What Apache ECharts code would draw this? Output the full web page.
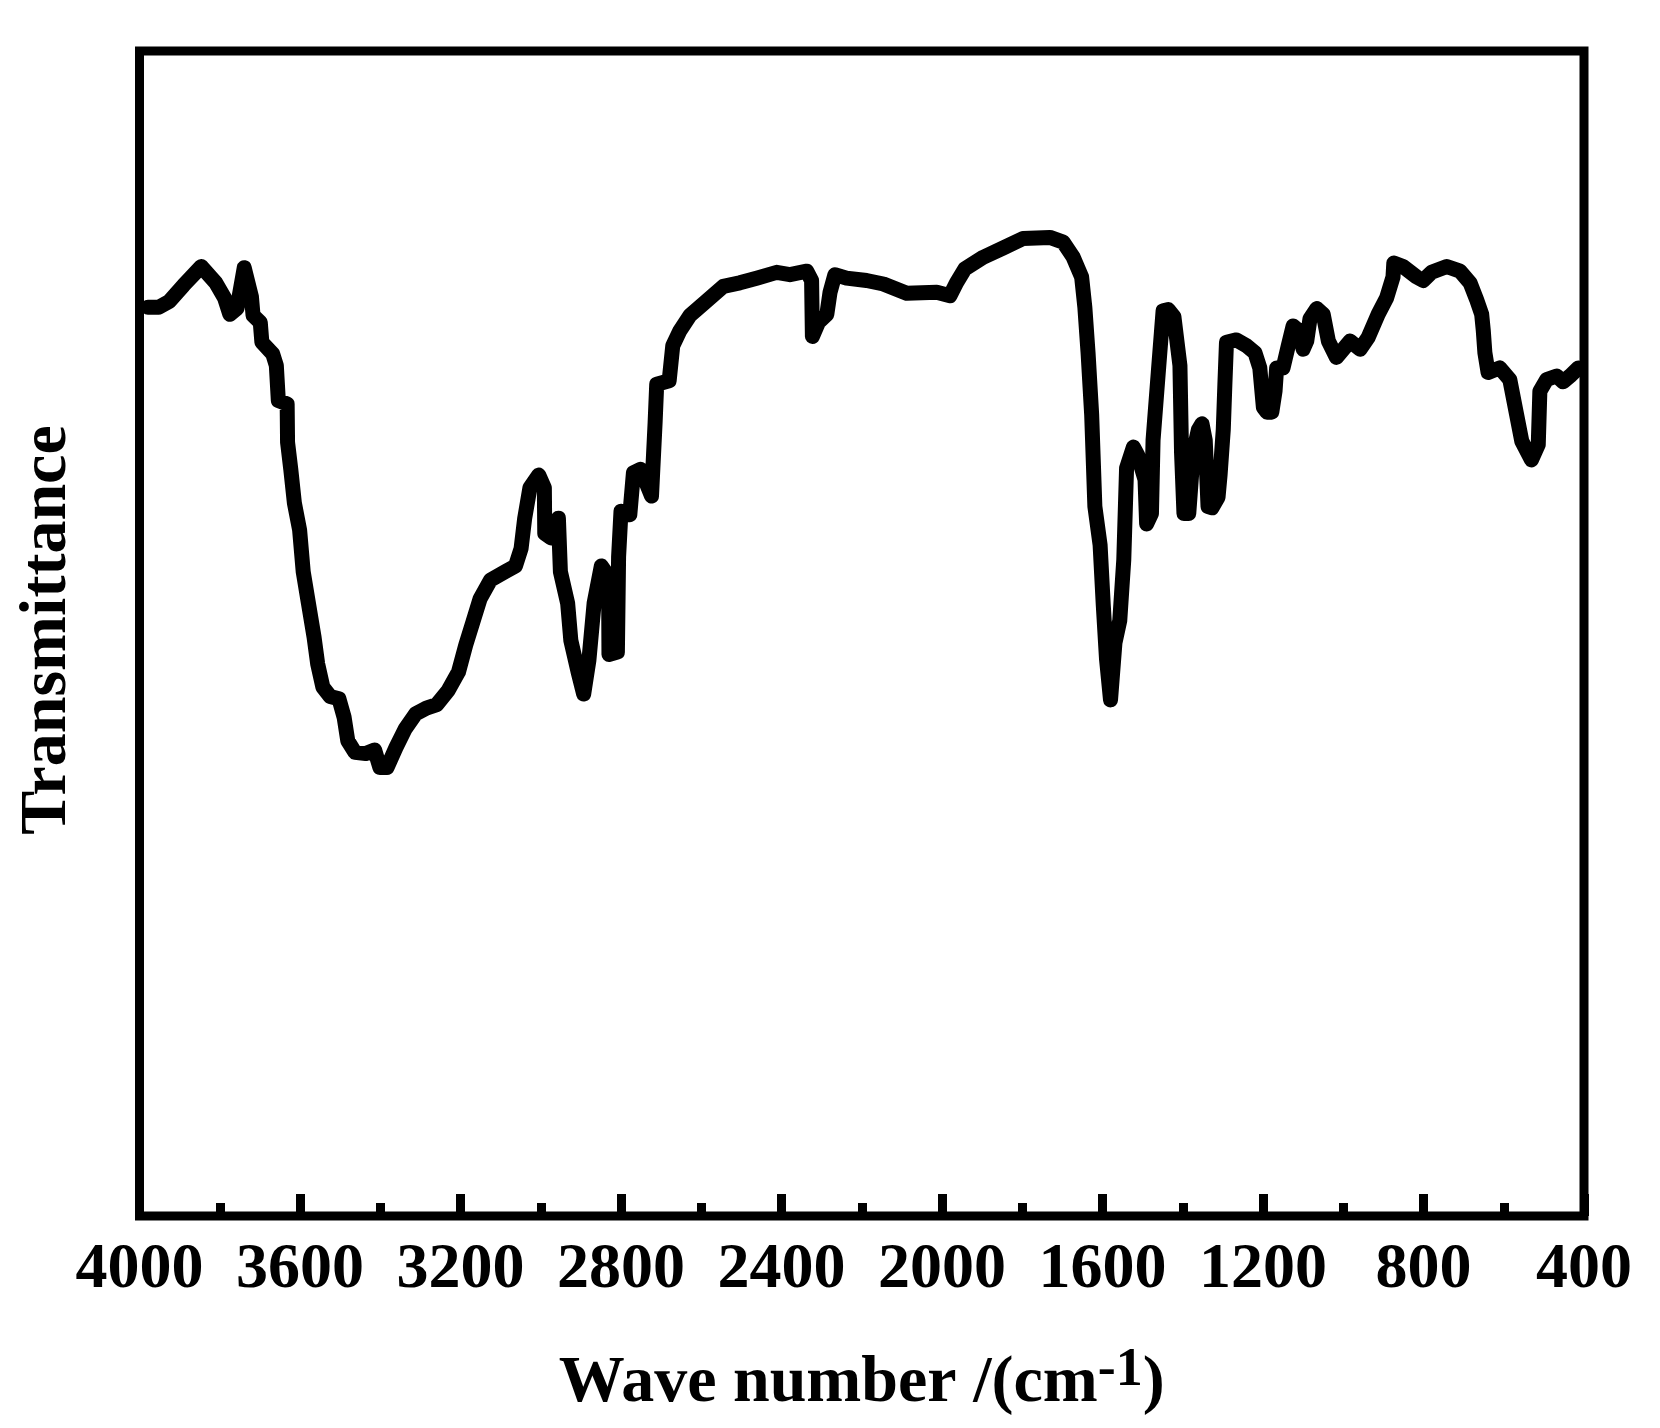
<!DOCTYPE html>
<html>
<head>
<meta charset="utf-8">
<script src="https://cdn.jsdelivr.net/npm/echarts@6/dist/echarts.min.js"></script>
<style>html,body{margin:0;padding:0;background:#fff;}#c{width:1660px;height:1428px;}</style>
</head>
<body>
<div id="c"></div>
<script>
// Wavenumbers (cm^-1)
const wavenumbers = [
3979, 3952, 3926, 3890, 3846, 3810, 3788, 3775, 3757, 3739,
3721, 3717, 3699, 3695, 3668, 3659, 3654, 3632, 3631, 3623,
3614, 3601, 3592, 3579, 3565, 3556, 3543, 3525, 3503, 3490,
3481, 3463, 3436, 3414, 3401, 3383, 3361, 3338, 3312, 3285,
3259, 3231, 3205, 3187, 3169, 3151, 3125, 3089, 3063, 3049,
3040, 3027, 3005, 2991, 2990, 2974, 2956, 2951, 2933, 2925,
2907, 2893, 2880, 2867, 2849, 2831, 2830, 2809, 2806, 2800,
2778, 2769, 2751, 2724, 2715, 2711, 2680, 2671, 2653, 2628,
2595, 2545, 2504, 2462, 2412, 2379, 2337, 2325, 2323, 2308,
2287, 2279, 2267, 2238, 2188, 2146, 2088, 2013, 1980, 1964,
1943, 1897, 1847, 1798, 1731, 1698, 1673, 1652, 1644, 1636,
1627, 1619, 1606, 1598, 1590, 1580, 1569, 1557, 1547, 1540,
1523, 1512, 1494, 1490, 1478, 1474, 1461, 1449, 1436, 1422,
1407, 1403, 1397, 1385, 1374, 1361, 1352, 1344, 1337, 1327,
1312, 1307, 1299, 1295, 1291, 1266, 1241, 1220, 1208, 1199,
1190, 1178, 1170, 1166, 1150, 1137, 1125, 1108, 1100, 1091,
1083, 1066, 1050, 1037, 1017, 983, 958, 938, 913, 892,
876, 874, 851, 817, 801, 780, 742, 709, 684, 668,
655, 651, 647, 639, 610, 585, 568, 555, 531, 514,
510, 493, 468, 452, 435, 414
];
// Transmittance (arbitrary units, 0-100 scale)
const transmittance = [
78.0, 78.0, 78.5, 79.9, 81.5, 80.1, 78.8, 77.4, 77.9, 81.4,
78.9, 77.3, 76.7, 75.0, 74.0, 73.0, 70.0, 69.7, 66.4, 64.1,
61.2, 58.9, 55.3, 52.6, 49.7, 47.4, 45.4, 44.6, 44.4, 42.8,
40.8, 39.8, 39.7, 40.0, 38.5, 38.5, 40.2, 41.8, 43.1, 43.6,
43.9, 45.1, 46.7, 49.0, 51.0, 53.0, 54.6, 55.3, 55.8, 57.3,
59.9, 62.5, 63.6, 62.5, 58.6, 58.2, 59.9, 55.3, 52.6, 49.4,
46.7, 44.8, 47.7, 52.6, 55.8, 54.9, 48.2, 48.4, 56.6, 60.5,
60.2, 63.8, 64.1, 61.8, 68.1, 71.4, 71.7, 74.7, 76.0, 77.3,
78.3, 79.8, 80.1, 80.5, 81.0, 80.8, 81.1, 80.3, 75.5, 76.7,
77.4, 79.3, 80.8, 80.5, 80.3, 80.0, 79.2, 79.3, 79.0, 80.1,
81.3, 82.3, 83.1, 83.9, 84.0, 83.6, 82.3, 80.6, 78.0, 74.1,
68.8, 60.9, 57.6, 52.4, 47.8, 44.3, 49.2, 51.1, 56.3, 64.2,
66.0, 65.3, 63.2, 59.4, 60.3, 66.6, 72.4, 77.7, 77.8, 77.2,
73.0, 65.5, 60.3, 60.3, 65.5, 67.5, 68.0, 66.6, 60.9, 60.8,
61.7, 63.6, 67.5, 71.4, 75.0, 75.2, 74.7, 74.1, 72.8, 69.4,
69.0, 69.0, 70.8, 72.8, 72.8, 74.7, 76.4, 75.9, 74.4, 75.1,
77.0, 77.9, 77.4, 75.1, 73.7, 75.1, 74.4, 75.4, 77.4, 78.8,
80.6, 81.8, 81.5, 80.6, 80.3, 81.0, 81.5, 81.1, 80.1, 78.7,
77.4, 76.0, 74.1, 72.4, 72.8, 71.8, 68.8, 66.5, 64.9, 66.2,
70.8, 71.8, 72.1, 71.6, 72.1, 72.8
];
const xTickLabels = ['4000','3600','3200','2800','2400','2000','1600','1200','800','400'];
const xTitle = 'Wave number /(cm';
const xTitleSup = '-1';
const yTitle = 'Transmittance';

const FONT = '"Liberation Serif", "Times New Roman", serif';
const chart = echarts.init(document.getElementById('c'), null, {renderer: 'canvas'});
const seriesData = wavenumbers.map((w, i) => [w, transmittance[i]]);

chart.setOption({
  backgroundColor: '#fff',
  animation: false,
  grid: {
    left: 139.5, right: 76, top: 51, bottom: 212,
    show: true, borderWidth: 9, borderColor: '#000', backgroundColor: 'transparent'
  },
  xAxis: {
    type: 'value', inverse: true, min: 400, max: 4000, interval: 400,
    axisLine: {show: false},
    splitLine: {show: false},
    axisTick: {show: true, inside: true, length: 22, lineStyle: {color: '#000', width: 9}},
    minorTick: {show: true, splitNumber: 2, length: 13, lineStyle: {color: '#000', width: 9}},
    minorSplitLine: {show: false},
    axisLabel: {
      show: true, margin: 22, hideOverlap: false, showMinLabel: true, showMaxLabel: true,
      fontFamily: FONT, fontWeight: 'bold', fontSize: 64, color: '#000',
      formatter: function (v) { const s = String(Math.round(v)); return xTickLabels.indexOf(s) >= 0 ? s : ''; }
    },
    name: '{a|' + xTitle + '}{s|' + xTitleSup + '}{a|)}',
    nameLocation: 'middle',
    nameGap: 128,
    nameTextStyle: {
      rich: {
        a: {fontFamily: FONT, fontWeight: 'bold', fontSize: 66, color: '#000', lineHeight: 80},
        s: {fontFamily: FONT, fontWeight: 'bold', fontSize: 54, color: '#000', lineHeight: 54, verticalAlign: 'top'}
      }
    }
  },
  yAxis: {
    type: 'value', min: 0, max: 100,
    axisLine: {show: false}, axisTick: {show: false}, axisLabel: {show: false}, splitLine: {show: false}
  },
  graphic: [{
    type: 'text',
    x: 48, y: 630, rotation: Math.PI / 2,
    style: {
      text: yTitle, fill: '#000',
      font: 'bold 66px ' + FONT,
      textAlign: 'center', textVerticalAlign: 'middle'
    }
  }],
  series: [{
    type: 'line',
    data: seriesData,
    showSymbol: false,
    smooth: false,
    lineStyle: {color: '#000', width: 15, join: 'round', cap: 'round'},
    clip: true
  }]
});
</script>
</body>
</html>
